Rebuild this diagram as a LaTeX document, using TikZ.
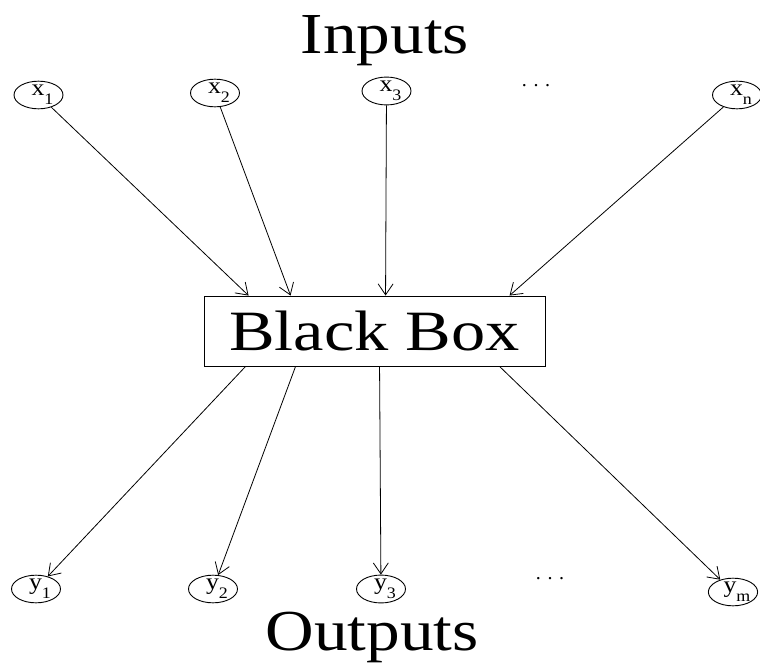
\documentclass[tikz,border=0pt]{standalone}
\usepackage{fontspec}
\usepackage{graphicx}
\setmainfont{Liberation Serif}
\usetikzlibrary{shapes.geometric,arrows.meta,calc}
\newcommand{\vlab}[2]{\hspace*{8pt}\scalebox{1.12}[1]{\fontsize{23}{23}\selectfont #1\raisebox{-9pt}{\fontsize{16}{16}\selectfont #2}}}
\newcommand{\wide}[1]{\scalebox{1.16}[1]{#1}}
\begin{document}
\begin{tikzpicture}[x=1pt,y=1pt,
  var/.style={draw,ellipse,line width=0.9pt,minimum width=49pt,minimum height=24pt,inner sep=0pt},
  big/.style={font=\fontsize{58}{58}\selectfont,anchor=base,inner sep=0pt},
  bbox/.style={draw,line width=0.9pt,minimum width=341pt,minimum height=70pt,inner sep=0pt,font=\fontsize{57}{57}\selectfont},
  link/.style={line width=0.8pt,-{Straight Barb[length=11pt,width=15pt]}},
  dots/.style={font=\fontsize{20}{20}\selectfont}]
\useasboundingbox (0,0) rectangle (760,-669);
\node[big] (in) at (385,-53) {\wide{Inputs}};
\node[big] (out) at (372,-650) {\wide{Outputs}};
\node[bbox] (box) at (374.5,-331) {\scalebox{1.2}[1]{Black Box}};
\node[var] (x1) at (38.5,-95) {\vlab{x}{1}};
\node[var] (x2) at (215,-93) {\vlab{x}{2}};
\node[var] (x3) at (386.5,-91) {\vlab{x}{3}};
\node[var] (xn) at (737,-95) {\vlab{x}{n}};
\node[dots] (xd) at (536,-86) {. . .};
\node[var] (y1) at (36,-589) {\vlab{y}{1}};
\node[var] (y2) at (213,-589) {\vlab{y}{2}};
\node[var] (y3) at (381,-589) {\vlab{y}{3}};
\node[var] (ym) at (733,-592) {\vlab{y}{m}};
\node[dots] (yd) at (550,-579) {. . .};
\draw[link] (x1) -- ([xshift=45pt]box.north west);
\draw[link] (x2) -- ([xshift=87pt]box.north west);
\draw[link] (x3) -- ([xshift=182pt]box.north west);
\draw[link] (xn) -- ([xshift=306pt]box.north west);
\draw[link] ([xshift=42pt]box.south west) -- (y1);
\draw[link] ([xshift=92pt]box.south west) -- (y2);
\draw[link] ([xshift=176pt]box.south west) -- (y3);
\draw[link] ([xshift=296pt]box.south west) -- (ym);
\end{tikzpicture}
\end{document}
